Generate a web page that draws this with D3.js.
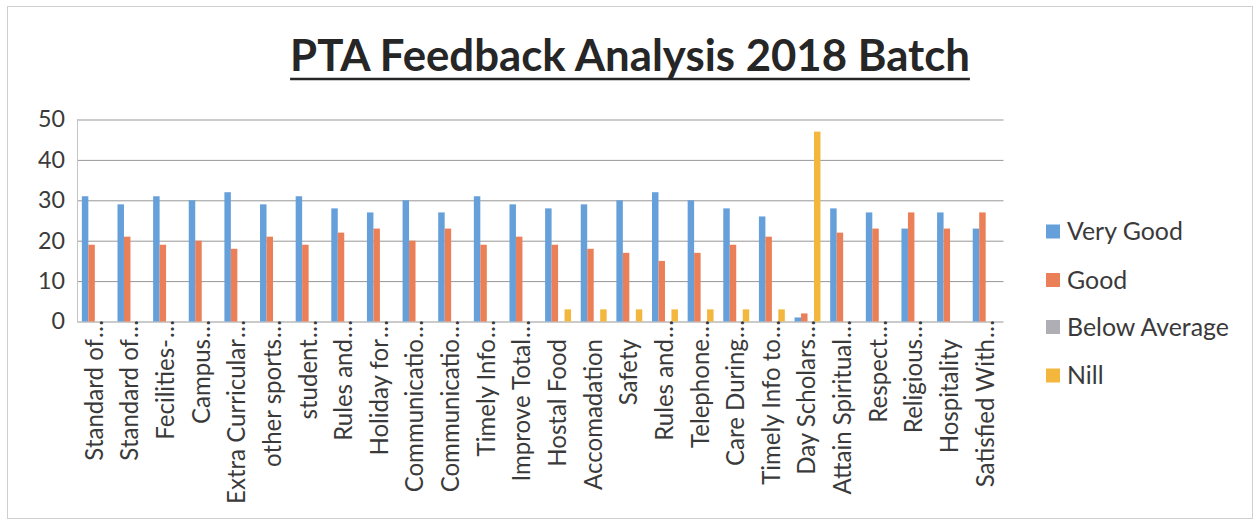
<!DOCTYPE html>
<html>
<head>
<meta charset="utf-8">
<script src="https://cdn.jsdelivr.net/npm/d3@7"></script>
<style>
  html, body { margin: 0; padding: 0; background: #fff; }
  svg { display: block; }
</style>
</head>
<body>
<div id="chart"></div>
<script>
// ---- data ----
const categories = ["Standard of…","Standard of…","Fecilities-…","Campus…","Extra Curricular…","other sports…","student…","Rules and…","Holiday for…","Communicatio…","Communicatio…","Timely Info…","Improve Total…","Hostal Food","Accomadation","Safety","Rules and…","Telephone…","Care During…","Timely Info to…","Day Scholars…","Attain Spiritual…","Respect…","Religious…","Hospitality","Satisfied With…"];
const seriesNames = ["Very Good","Good","Below Average","Nill"];
const veryGood     = [31,29,31,30,32,29,31,28,27,30,27,31,29,28,29,30,32,30,28,26,1,28,27,23,27,23];
const good         = [19,21,19,20,18,21,19,22,23,20,23,19,21,19,18,17,15,17,19,21,2,22,23,27,23,27];
const belowAverage = [0,0,0,0,0,0,0,0,0,0,0,0,0,0,0,0,0,0,0,0,0,0,0,0,0,0];
const nill         = [0,0,0,0,0,0,0,0,0,0,0,0,0,3,3,3,3,3,3,3,47,0,0,0,0,0];
const yTicks = [0,10,20,30,40,50];
const titleText = "PTA Feedback Analysis 2018 Batch";

const seriesValues = [veryGood, good, belowAverage, nill];
const colors = ["#66A0DA","#EA7F58","#AEAEB4","#F4B73E"];

// ---- layout ----
const W = 1258, H = 525;
const plotL = 77, plotR = 1003.5, yZero = 321.5, yTop = 119.5;
const FONT = "Lato, 'Open Sans', sans-serif";
const TXT = "#3a3a3a";

const svg = d3.select("#chart").append("svg").attr("width", W).attr("height", H);
svg.append("rect").attr("width", W).attr("height", H).attr("fill", "#fff");
svg.append("rect").attr("x", 7.5).attr("y", 6.5).attr("width", 1245).attr("height", 512)
  .attr("fill", "none").attr("stroke", "#cfcfcf").attr("stroke-width", 1);

// font fitting helper
function fitSize(str, target, weight) {
  const t = svg.append("text").attr("font-family", FONT).attr("font-size", 100)
    .attr("font-weight", weight || "normal").text(str);
  const w = t.node().getComputedTextLength();
  t.remove();
  return 100 * target / w;
}

const x = d3.scaleBand().domain(d3.range(categories.length)).range([plotL, plotR]).padding(0);
const xs = d3.scaleBand().domain(d3.range(seriesNames.length)).range([0, x.bandwidth()])
  .paddingInner(0).paddingOuter(0.75);
const y = d3.scaleLinear().domain([0, 50]).range([yZero, yTop]);

// grid
const tickFs = fitSize("50", 27);
const gy = svg.append("g").attr("transform", `translate(${plotL},0)`)
  .call(d3.axisLeft(y).tickValues(yTicks).tickSize(-(plotR - plotL)).tickPadding(12));
gy.select(".domain").remove();
gy.selectAll(".tick line").attr("stroke", "#979797").attr("stroke-width", 1);
gy.selectAll(".tick text").attr("font-family", FONT).attr("font-size", tickFs).attr("fill", TXT);
svg.append("line").attr("x1", plotL + 0.5).attr("x2", plotL + 0.5).attr("y1", yTop).attr("y2", yZero)
  .attr("stroke", "#c4c4c4");

// bars
seriesValues.forEach((vals, si) => {
  svg.append("g").selectAll("rect").data(vals).join("rect")
    .attr("x", (d, i) => x(i) + xs(si))
    .attr("width", xs.bandwidth())
    .attr("y", d => y(d))
    .attr("height", d => yZero - y(d))
    .attr("fill", colors[si]);
});

// x labels
const labFs = fitSize("Extra Curricular", 165);
const labEnd = 339;
const lg = svg.append("g").selectAll("g").data(categories).join("g")
  .attr("transform", (d, i) => `translate(${x(i) + x.bandwidth() / 2},${labEnd}) rotate(-90)`);
lg.append("text")
  .attr("text-anchor", "end").attr("dy", "0.33em")
  .attr("font-family", FONT).attr("font-size", labFs).attr("fill", TXT)
  .text(d => d.replace("…", ""));
lg.filter(d => d.endsWith("…")).append("text")
  .attr("text-anchor", "start").attr("dy", "0.33em").attr("x", 1)
  .attr("font-family", FONT).attr("font-size", labFs).attr("fill", TXT)
  .text("…");

// title
const titleFs = fitSize(titleText, 680, "bold");
const tt = svg.append("text").attr("x", 630).attr("y", 71).attr("text-anchor", "middle")
  .attr("font-family", FONT).attr("font-weight", "bold").attr("font-size", titleFs)
  .attr("fill", "#262626").text(titleText);
const tw = tt.node().getComputedTextLength();
svg.append("line").attr("x1", 630 - tw / 2).attr("x2", 630 + tw / 2).attr("y1", 79).attr("y2", 79)
  .attr("stroke", "#262626").attr("stroke-width", 2.5);

// legend
const legFs = fitSize("Below Average", 162);
const legRows = [231.5, 280, 327, 375.5];
const leg = svg.append("g").selectAll("g").data(seriesNames).join("g")
  .attr("transform", (d, i) => `translate(1046,${legRows[i]})`);
leg.append("rect").attr("x", 0).attr("y", -7).attr("width", 14).attr("height", 14)
  .attr("fill", (d, i) => colors[i]);
leg.append("text").attr("x", 21).attr("dy", "0.35em")
  .attr("font-family", FONT).attr("font-size", legFs).attr("fill", TXT).text(d => d);
</script>
</body>
</html>
